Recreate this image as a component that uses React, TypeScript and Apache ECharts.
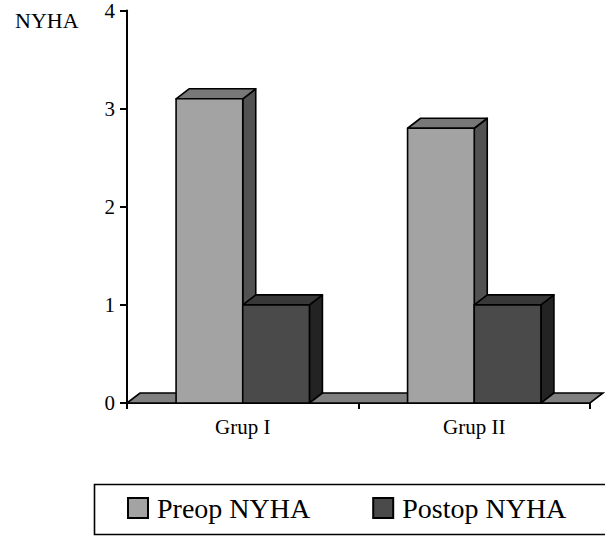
import React, { useEffect, useRef } from "react";
import * as echarts from "echarts";

const categories = ["Grup I", "Grup II"];
const preopValues = [3.1, 2.8];
const postopValues = [1.0, 1.0];
const yTicks = [0, 1, 2, 3, 4];
const seriesNames = ["Preop NYHA", "Postop NYHA"];

const FONT = "'Liberation Serif', 'Times New Roman', serif";
const DX = 13;
const DY = -10;
const BAR_FRAC = 0.288;

const preopColors = { front: "#a3a3a3", top: "#787878", side: "#525252" };
const postopColors = { front: "#4a4a4a", top: "#383838", side: "#232323" };

function makeBarRender(sign: number, colors: { front: string; top: string; side: string }) {
  return (params: any, api: any) => {
    const cat = api.value(0);
    const val = api.value(1);
    const base = api.coord([cat, 0]);
    const top = api.coord([cat, val]);
    const band = api.size([1, 0])[0];
    const w = band * BAR_FRAC;
    const x0 = sign < 0 ? base[0] - w : base[0];
    const x1 = x0 + w;
    const y0 = base[1];
    const y1 = top[1];
    const st = { stroke: "#000", lineWidth: 1.6, lineJoin: "round" };
    return {
      type: "group",
      children: [
        {
          type: "polygon",
          shape: { points: [[x1, y0], [x1 + DX, y0 + DY], [x1 + DX, y1 + DY], [x1, y1]] },
          style: { ...st, fill: colors.side },
        },
        {
          type: "polygon",
          shape: { points: [[x0, y1], [x0 + DX, y1 + DY], [x1 + DX, y1 + DY], [x1, y1]] },
          style: { ...st, fill: colors.top },
        },
        {
          type: "rect",
          shape: { x: x0, y: y1, width: w, height: y0 - y1 },
          style: { ...st, fill: colors.front },
        },
      ],
    };
  };
}

function renderFloor(params: any, api: any) {
  const cs = params.coordSys;
  const y0 = api.coord([0, 0])[1];
  const xl = cs.x;
  const xr = cs.x + cs.width;
  return {
    type: "polygon",
    shape: { points: [[xl, y0], [xl + DX, y0 + DY], [xr + DX, y0 + DY], [xr, y0]] },
    style: { fill: "#808080", stroke: "#000", lineWidth: 1.6 },
  };
}

export default function App() {
  const ref = useRef<HTMLDivElement>(null);
  useEffect(() => {
    document.body.style.margin = "0";
    if (!ref.current) return;
    const chart = echarts.init(ref.current, null, { renderer: "svg" });
    chart.setOption({
      animation: false,
      backgroundColor: "#fff",
      title: {
        text: "NYHA",
        left: 10,
        top: 4,
        textStyle: { fontFamily: FONT, fontSize: 22, fontWeight: "normal", color: "#000" },
      },
      grid: { left: 127, right: 15, top: 8, bottom: 134 },
      xAxis: {
        type: "category",
        data: categories,
        axisLine: { lineStyle: { color: "#000", width: 2 } },
        axisTick: { show: true, length: 6, lineStyle: { color: "#000", width: 2 } },
        axisLabel: { fontFamily: FONT, fontSize: 21, color: "#000", margin: 13 },
        z: 1,
      },
      yAxis: {
        type: "value",
        min: yTicks[0],
        max: yTicks[yTicks.length - 1],
        interval: 1,
        splitLine: { show: false },
        axisLine: { show: true, lineStyle: { color: "#000", width: 2 } },
        axisTick: { show: true, length: 7, lineStyle: { color: "#000", width: 2 } },
        axisLabel: { fontFamily: FONT, fontSize: 21, color: "#000", margin: 12 },
      },
      legend: {
        left: 122,
        top: 489,
        itemWidth: 20,
        itemHeight: 20,
        itemGap: 62,
        icon: "rect",
        textStyle: { fontFamily: FONT, fontSize: 28, color: "#000", lineHeight: 28, padding: [0, 0, 0, 4] },
        data: [
          { name: seriesNames[0], itemStyle: { color: preopColors.front, borderColor: "#000", borderWidth: 2 } },
          { name: seriesNames[1], itemStyle: { color: postopColors.front, borderColor: "#000", borderWidth: 2 } },
        ],
      },
      graphic: [
        {
          type: "rect",
          left: 92,
          top: 482,
          shape: { width: 540, height: 50 },
          style: { fill: "none", stroke: "#000", lineWidth: 1.6 },
          z: -1,
        },
      ],
      series: [
        {
          type: "custom",
          name: "floor",
          renderItem: renderFloor,
          data: [[0, 0]],
          encode: { x: 0, y: 1 },
          z: 2,
          silent: true,
        },
        {
          type: "custom",
          name: seriesNames[0],
          renderItem: makeBarRender(-1, preopColors),
          data: categories.map((_, i) => [i, preopValues[i]]),
          encode: { x: 0, y: 1 },
          itemStyle: { color: preopColors.front },
          z: 3,
        },
        {
          type: "custom",
          name: seriesNames[1],
          renderItem: makeBarRender(1, postopColors),
          data: categories.map((_, i) => [i, postopValues[i]]),
          encode: { x: 0, y: 1 },
          itemStyle: { color: postopColors.front },
          z: 4,
        },
      ],
    });
    return () => chart.dispose();
  }, []);
  return <div ref={ref} style={{ width: 605, height: 537 }} />;
}
